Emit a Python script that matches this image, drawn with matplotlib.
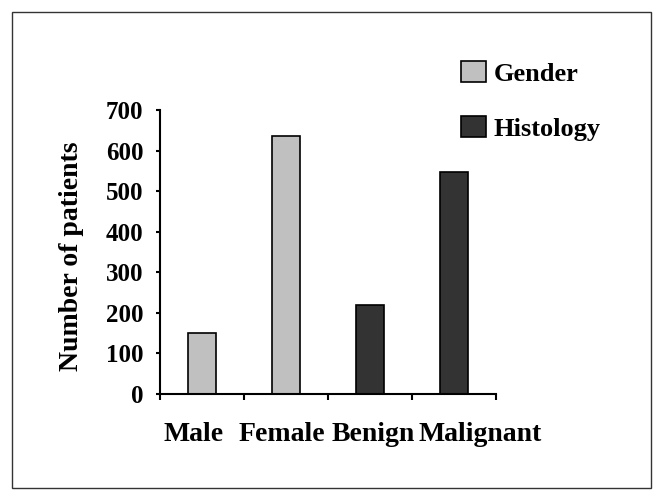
import matplotlib
matplotlib.use("Agg")
import matplotlib.pyplot as plt
from matplotlib.patches import Patch, Rectangle
from matplotlib.transforms import blended_transform_factory, offset_copy

plt.rcParams["font.family"] = ["Liberation Serif", "DejaVu Serif"]
plt.rcParams["font.weight"] = "bold"

# data
categories = ["Male", "Female", "Benign", "Malignant"]
patients = [150, 635, 220, 548]
groups = ["Gender", "Gender", "Histology", "Histology"]
y_ticks = [0, 100, 200, 300, 400, 500, 600, 700]

group_colors = {"Gender": "#c0c0c0", "Histology": "#333333"}

W, H = 661, 501
fig = plt.figure(figsize=(W / 100, H / 100), dpi=100)
ax = fig.add_axes([160 / W, 1 - 394 / H, 336 / W, 284 / H])

xs = list(range(len(categories)))
ax.bar(xs, patients, width=0.34,
       color=[group_colors[g] for g in groups],
       edgecolor="black", linewidth=1.2, zorder=2)

ax.set_xlim(-0.5, len(categories) - 0.5)
ax.set_ylim(0, 700)
ax.set_yticks(y_ticks)
ax.set_yticklabels([str(t) for t in y_ticks], fontsize=18, fontweight="bold")
ax.tick_params(axis="y", direction="out", length=3, width=1.5, pad=9)

# category boundary ticks on x, labels drawn as text below
ax.set_xticks([x - 0.5 for x in xs] + [len(categories) - 0.5])
ax.set_xticklabels([])
ax.tick_params(axis="x", direction="out", length=4, width=1.5)

for s in ["top", "right"]:
    ax.spines[s].set_visible(False)
for s in ["left", "bottom"]:
    ax.spines[s].set_linewidth(1.5)

# the labels in the source are hand-placed, slightly off-centre
label_shift = [-6, -3, 2, 19]  # points
trans = blended_transform_factory(ax.transData, ax.transAxes)
for x, lab, dx in zip(xs, categories, label_shift):
    t = offset_copy(trans, fig=fig, x=dx, y=-29, units="points")
    ax.text(x, 0, lab, transform=t, ha="center", va="center",
            fontsize=20, fontweight="bold")

ax.set_ylabel("Number of patients", fontsize=20, fontweight="bold")
ax.yaxis.set_label_coords(-0.225, 0.485)

handles = [Patch(facecolor=group_colors[g], edgecolor="black", linewidth=1.2)
           for g in ["Gender", "Histology"]]
fig.legend(handles, ["Gender", "Histology"], loc="upper left",
           bbox_to_anchor=(461 / W, 1 - 61 / H), frameon=False,
           prop={"size": 19, "weight": "bold"}, handlelength=0.95,
           handleheight=0.85, handletextpad=0.3, labelspacing=1.15,
           borderpad=0, borderaxespad=0)

# outer frame around the figure
fig.patches.append(Rectangle((12 / W, 1 - 488 / H), 639 / W, 476 / H,
                             transform=fig.transFigure, fill=False,
                             edgecolor="#333333", linewidth=1.0))

fig.savefig("out.png", dpi=100)
